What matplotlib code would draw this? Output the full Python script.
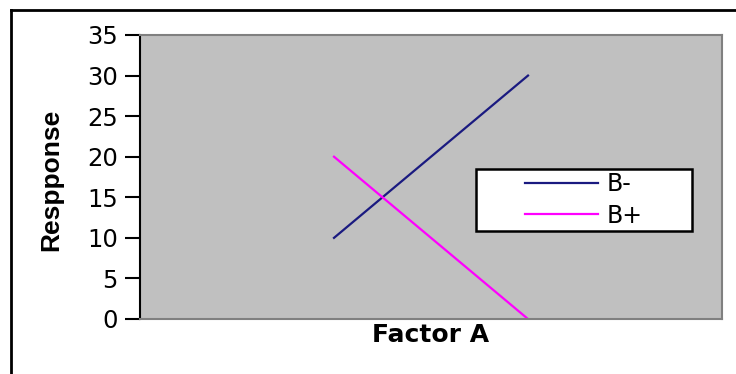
import matplotlib.pyplot as plt
from matplotlib.lines import Line2D
from matplotlib.patches import Rectangle

plt.rcParams['font.family'] = ['DejaVu Sans']

factor_a = [1, 2]
b_minus = [10, 30]
b_plus = [20, 0]
yticks = [0, 5, 10, 15, 20, 25, 30, 35]

W, H = 736, 374
fig = plt.figure(figsize=(W / 100, H / 100), dpi=100)
ax = fig.add_axes([140 / W, 1 - 319 / H, 582 / W, 284 / H])
ax.set_facecolor('#C0C0C0')

ax.plot(factor_a, b_minus, color='#1A1A80', lw=1.6, label='B-')
ax.plot(factor_a, b_plus, color='#FF00FF', lw=1.6, label='B+')

ax.set_xlim(0, 3)
ax.set_ylim(0, 35)
ax.set_xticks([])
ax.set_yticks(yticks)
ax.tick_params(axis='y', direction='out', length=11, width=1.5, labelsize=17.5, pad=5)

for s in ['top', 'right', 'bottom']:
    ax.spines[s].set_color('#808080')
    ax.spines[s].set_linewidth(1.5)
ax.spines['left'].set_color('black')
ax.spines['left'].set_linewidth(1.5)

ax.set_xlabel('Factor A', fontsize=18, fontweight='bold', labelpad=3)
ax.set_ylabel('Respponse', fontsize=19, fontweight='bold', family='Liberation Sans')
ax.yaxis.set_label_coords((63 - 140) / 582, (319 - 180) / 284)

# legend box
x0, x1 = (476 - 140) / 582, (692 - 140) / 582
y0, y1 = (319 - 231) / 284, (319 - 169) / 284
ax.add_patch(Rectangle((x0, y0), x1 - x0, y1 - y0, transform=ax.transAxes,
                       facecolor='white', edgecolor='black', lw=1.8, zorder=4))
leg = ax.legend(loc='center', bbox_to_anchor=((x0 + x1) / 2, (y0 + y1) / 2),
                fontsize=17, frameon=False, handlelength=3.1, handletextpad=0.35,
                labelspacing=0.3, borderpad=0, borderaxespad=0)
leg.set_zorder(5)

# outer chart border (left and top edges visible)
fig.add_artist(Line2D([11 / W, 11 / W], [0, 1 - 10 / H], color='black', lw=2, transform=fig.transFigure))
fig.add_artist(Line2D([11 / W, 1], [1 - 10 / H, 1 - 10 / H], color='black', lw=2, transform=fig.transFigure))

fig.savefig('out.png', dpi=100)
